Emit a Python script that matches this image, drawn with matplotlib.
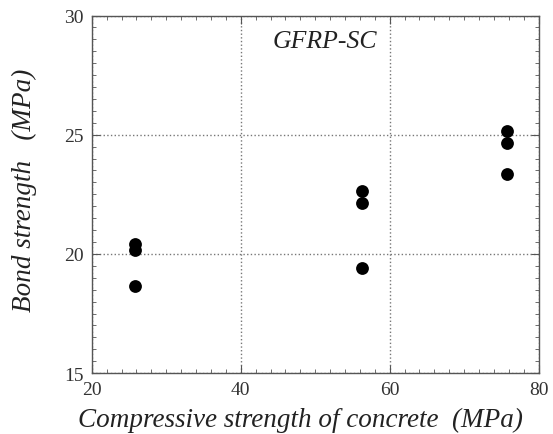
import matplotlib.pyplot as plt
from matplotlib.ticker import MultipleLocator

# compressive strength of concrete (MPa) and bond strength (MPa)
fc = [25.8, 25.8, 25.8, 56.3, 56.3, 56.3, 75.7, 75.7, 75.7]
bond = [20.42, 20.18, 18.67, 22.65, 22.14, 19.40, 25.17, 24.67, 23.35]

plt.rcParams['font.family'] = ['Liberation Serif', 'DejaVu Serif']

fig = plt.figure(figsize=(5.53, 4.35), dpi=100)
ax = fig.add_axes([0.166, 0.140, 0.808, 0.822])

ax.scatter(fc, bond, s=85, color='black', zorder=3, linewidths=0)

ax.set_xlim(20, 80)
ax.set_ylim(15, 30)
ax.xaxis.set_major_locator(MultipleLocator(20))
ax.xaxis.set_minor_locator(MultipleLocator(2))
ax.yaxis.set_major_locator(MultipleLocator(5))
ax.yaxis.set_minor_locator(MultipleLocator(0.5))
ax.tick_params(which='both', direction='in', top=True, right=True,
               color='#555555', labelsize=14, labelcolor='#333333', pad=6)
ax.tick_params(which='major', length=6)
ax.tick_params(which='minor', length=3)
for s in ax.spines.values():
    s.set_color('#555555')
    s.set_linewidth(1.0)

ax.grid(True, which='major', linestyle=':', color='#777777', linewidth=1.0)

ax.set_xlabel('Compressive strength of concrete  (MPa)', fontsize=19.5,
              style='italic', color='#222222', labelpad=6)
ax.xaxis.label.set_x(0.468)
ax.set_ylabel('Bond strength   (MPa)', fontsize=19.5, style='italic',
              color='#222222', labelpad=19)
ax.yaxis.label.set_y(0.514)
ax.text(51.3, 28.92, 'GFRP-SC', fontsize=18.5, style='italic', ha='center',
        va='center', color='#222222')

fig.savefig('out.png', dpi=100)
